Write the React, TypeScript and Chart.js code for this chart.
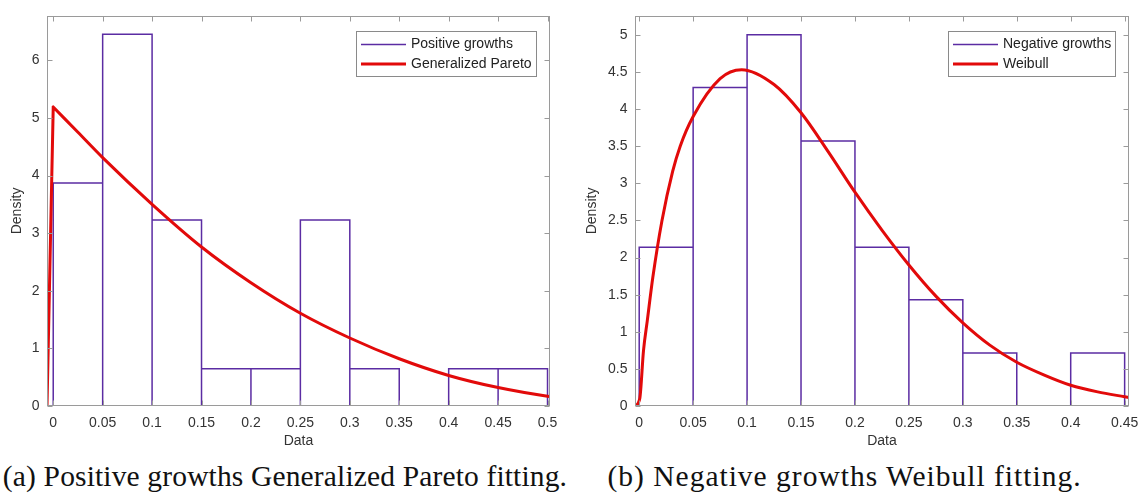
import React, { useEffect, useRef } from "react";
import { Chart, registerables } from "chart.js";

Chart.register(...registerables);

// ---------- Panel (a): positive growths, Generalized Pareto ----------
const posBinEdges = [0, 0.05, 0.1, 0.15, 0.2, 0.25, 0.3, 0.35, 0.4, 0.45, 0.5];
const posDensity = [3.87, 6.45, 3.23, 0.645, 0.645, 3.23, 0.645, 0, 0.645, 0.645];
const paretoX = [-0.0063, 0, 0.025, 0.05, 0.1, 0.15, 0.2, 0.25, 0.3, 0.35, 0.4, 0.45, 0.5, 0.5025];
const paretoY = [0, 5.19, 4.75, 4.31, 3.5, 2.76, 2.14, 1.61, 1.18, 0.82, 0.53, 0.32, 0.17, 0.165];
const paretoPeakIndex = 1; // the fitted density jumps up at x = 0 (support starts there)
const posXTicks = [0, 0.05, 0.1, 0.15, 0.2, 0.25, 0.3, 0.35, 0.4, 0.45, 0.5];
const posXTickLabels = ["0", "0.05", "0.1", "0.15", "0.2", "0.25", "0.3", "0.35", "0.4", "0.45", "0.5"];
const posYTicks = [0, 1, 2, 3, 4, 5, 6];
const posYTickLabels = ["0", "1", "2", "3", "4", "5", "6"];

// ---------- Panel (b): negative growths, Weibull ----------
const negBinEdges = [0, 0.05, 0.1, 0.15, 0.2, 0.25, 0.3, 0.35, 0.4, 0.45];
const negDensity = [2.14, 4.29, 5.0, 3.57, 2.14, 1.43, 0.714, 0, 0.714];
const weibullX = [-0.0039, 0.0005, 0.004, 0.0075, 0.0126, 0.021, 0.031, 0.038, 0.05, 0.075, 0.095, 0.125, 0.15, 0.175, 0.2, 0.225, 0.25, 0.275, 0.3, 0.325, 0.35, 0.375, 0.4, 0.425, 0.45, 0.454];
const weibullY = [0, 0.1, 0.75, 1.15, 1.73, 2.49, 3.16, 3.5, 3.9, 4.41, 4.53, 4.33, 3.95, 3.43, 2.88, 2.37, 1.9, 1.48, 1.12, 0.82, 0.59, 0.42, 0.28, 0.19, 0.125, 0.115];
const weibullPeakIndex = -1; // no discontinuity
const negXTicks = [0, 0.05, 0.1, 0.15, 0.2, 0.25, 0.3, 0.35, 0.4, 0.45];
const negXTickLabels = ["0", "0.05", "0.1", "0.15", "0.2", "0.25", "0.3", "0.35", "0.4", "0.45"];
const negYTicks = [0, 0.5, 1, 1.5, 2, 2.5, 3, 3.5, 4, 4.5, 5];
const negYTickLabels = ["0", "0.5", "1", "1.5", "2", "2.5", "3", "3.5", "4", "4.5", "5"];

const captionA = "(a) Positive growths Generalized Pareto fitting.";
const captionB = "(b) Negative growths Weibull fitting.";

const FONT = "'Liberation Sans', Arial, sans-serif";
const TEXT_COLOR = "#333333";
const BOX_COLOR = "#9a9a9a";
const HIST_COLOR = "#5b2ca3";
const FIT_COLOR = "#e20a0a";

type Spec = {
  edges: number[];
  heights: number[];
  fitX: number[];
  fitY: number[];
  breakAt: number;
  histLabel: string;
  fitLabel: string;
  xMin: number;
  xMax: number;
  yMax: number;
  xTicks: number[];
  xTickLabels: string[];
  yTicks: number[];
  yTickLabels: string[];
  yAxisWidth: number;
  padTop: number;
  padRight: number;
};

function histOutline(edges: number[], heights: number[]) {
  const pts: { x: number; y: number }[] = [];
  heights.forEach((h, i) => {
    pts.push({ x: edges[i], y: 0 }, { x: edges[i], y: h }, { x: edges[i + 1], y: h }, { x: edges[i + 1], y: 0 });
  });
  return pts;
}

// curve points; at a jump (breakAt) the smooth part is started afresh so the
// monotone spline does not round off the corner
function curvePoints(xs: number[], ys: number[], breakAt: number) {
  const pts: { x: number; y: number | null }[] = [];
  xs.forEach((x, i) => {
    pts.push({ x, y: ys[i] });
    if (i === breakAt) {
      pts.push({ x, y: null });
      pts.push({ x, y: ys[i] });
    }
  });
  return pts;
}

const framePlugin = {
  id: "matlabFrame",
  afterDatasetsDraw(chart: any) {
    const { ctx, chartArea: a } = chart;
    const xs = chart.scales.x;
    const ys = chart.scales.y;
    ctx.save();
    ctx.strokeStyle = BOX_COLOR;
    ctx.lineWidth = 1;
    const L = Math.round(a.left) + 0.5;
    const R = Math.round(a.right) - 0.5;
    const T = Math.round(a.top) + 0.5;
    const B = Math.round(a.bottom) - 0.5;
    ctx.strokeRect(L, T, R - L, B - T);
    const tl = 5;
    ctx.beginPath();
    xs.ticks.forEach((t: any) => {
      const px = Math.round(xs.getPixelForValue(t.value)) + 0.5;
      ctx.moveTo(px, B);
      ctx.lineTo(px, B - tl);
      ctx.moveTo(px, T);
      ctx.lineTo(px, T + tl);
    });
    ys.ticks.forEach((t: any) => {
      const py = Math.round(ys.getPixelForValue(t.value)) + 0.5;
      ctx.moveTo(L, py);
      ctx.lineTo(L + tl, py);
      ctx.moveTo(R, py);
      ctx.lineTo(R - tl, py);
    });
    ctx.stroke();

    // legend box (MATLAB style, north-east inside the axes)
    ctx.font = `14px ${FONT}`;
    const items = chart.data.datasets.map((d: any) => ({ label: d.label, color: d.borderColor, width: d.borderWidth }));
    const textW = Math.max(...items.map((i: any) => ctx.measureText(i.label).width));
    const boxW = Math.round(5 + 45 + 5 + textW + 4);
    const boxH = 45;
    const bx = Math.round(a.right - 14 - boxW);
    const by = Math.round(a.top + 15);
    ctx.fillStyle = "#ffffff";
    ctx.fillRect(bx, by, boxW, boxH);
    ctx.strokeStyle = "#8a8a8a";
    ctx.lineWidth = 1;
    ctx.strokeRect(bx + 0.5, by + 0.5, boxW, boxH);
    items.forEach((it: any, i: number) => {
      const cy = by + 13.5 + i * 19.5;
      ctx.strokeStyle = it.color;
      ctx.lineWidth = it.width;
      ctx.beginPath();
      ctx.moveTo(bx + 5, cy);
      ctx.lineTo(bx + 50, cy);
      ctx.stroke();
      ctx.fillStyle = "#222222";
      ctx.textAlign = "left";
      ctx.textBaseline = "middle";
      ctx.fillText(it.label, bx + 55, cy);
    });
    ctx.restore();
  },
};

function makeChart(canvas: HTMLCanvasElement, s: Spec) {
  const font = { family: FONT, size: 14 };
  return new Chart(canvas, {
    type: "scatter",
    data: {
      datasets: [
        {
          label: s.histLabel,
          data: histOutline(s.edges, s.heights),
          showLine: true,
          pointRadius: 0,
          borderColor: HIST_COLOR,
          borderWidth: 1.5,
          tension: 0,
          fill: false,
          order: 2,
        } as any,
        {
          label: s.fitLabel,
          data: curvePoints(s.fitX, s.fitY, s.breakAt),
          showLine: true,
          spanGaps: false,
          pointRadius: 0,
          borderColor: FIT_COLOR,
          borderWidth: 3,
          borderCapStyle: "round",
          borderJoinStyle: "round",
          cubicInterpolationMode: "monotone",
          fill: false,
          order: 1,
        } as any,
      ],
    },
    options: {
      responsive: false,
      animation: false,
      events: [],
      layout: { padding: { top: s.padTop, right: s.padRight, bottom: 0, left: 0 } },
      plugins: { legend: { display: false }, tooltip: { enabled: false } },
      scales: {
        x: {
          type: "linear",
          min: s.xMin,
          max: s.xMax,
          afterBuildTicks: (sc: any) => {
            sc.ticks = s.xTicks.map((v) => ({ value: v }));
          },
          afterFit: (sc: any) => {
            sc.height = 49;
          },
          grid: { display: false, drawTicks: false },
          border: { display: false },
          ticks: {
            autoSkip: false,
            maxRotation: 0,
            padding: 8.6,
            color: TEXT_COLOR,
            font,
            callback: (_v: any, i: number) => s.xTickLabels[i],
          },
          title: { display: true, text: "Data", color: TEXT_COLOR, font, padding: { top: 0, bottom: 5.6 } },
        },
        y: {
          type: "linear",
          min: 0,
          max: s.yMax,
          afterBuildTicks: (sc: any) => {
            sc.ticks = s.yTicks.map((v) => ({ value: v }));
          },
          afterFit: (sc: any) => {
            sc.width = s.yAxisWidth;
          },
          grid: { display: false, drawTicks: false },
          border: { display: false },
          ticks: {
            autoSkip: false,
            padding: 7.5,
            color: TEXT_COLOR,
            font,
            callback: (_v: any, i: number) => s.yTickLabels[i],
          },
          title: { display: true, text: "Density", color: TEXT_COLOR, font, padding: { top: 8.6, bottom: 0 } },
        },
      },
    } as any,
    plugins: [framePlugin],
  });
}

export default function App() {
  const leftRef = useRef<HTMLCanvasElement>(null);
  const rightRef = useRef<HTMLCanvasElement>(null);

  useEffect(() => {
    const a = makeChart(leftRef.current!, {
      edges: posBinEdges,
      heights: posDensity,
      fitX: paretoX,
      fitY: paretoY,
      breakAt: paretoPeakIndex,
      histLabel: "Positive growths",
      fitLabel: "Generalized Pareto",
      xMin: -0.0063,
      xMax: 0.5025,
      yMax: 6.77,
      xTicks: posXTicks,
      xTickLabels: posXTickLabels,
      yTicks: posYTicks,
      yTickLabels: posYTickLabels,
      yAxisWidth: 47,
      padTop: 9.3,
      padRight: 25,
    });
    const b = makeChart(rightRef.current!, {
      edges: negBinEdges,
      heights: negDensity,
      fitX: weibullX,
      fitY: weibullY,
      breakAt: weibullPeakIndex,
      histLabel: "Negative growths",
      fitLabel: "Weibull",
      xMin: -0.0039,
      xMax: 0.454,
      yMax: 5.255,
      xTicks: negXTicks,
      xTickLabels: negXTickLabels,
      yTicks: negYTicks,
      yTickLabels: negYTickLabels,
      yAxisWidth: 60,
      padTop: 14,
      padRight: 15.7,
    });
    return () => {
      a.destroy();
      b.destroy();
    };
  }, []);

  const captionStyle: React.CSSProperties = {
    position: "absolute",
    top: 461.7,
    textAlign: "center",
    fontFamily: "'Liberation Serif', 'Times New Roman', serif",
    fontSize: 29.5,
    lineHeight: "29.5px",
    whiteSpace: "nowrap",
    color: "#111111",
  };

  return (
    <div style={{ position: "absolute", left: 0, top: 0, width: 1147, height: 495, background: "#ffffff", overflow: "hidden" }}>
      <canvas ref={leftRef} width={575} height={455} style={{ position: "absolute", left: 0, top: 0 }} />
      <canvas ref={rightRef} width={572} height={455} style={{ position: "absolute", left: 575, top: 0 }} />
      <div style={{ ...captionStyle, left: 0, width: 570, letterSpacing: "0.15px" }}>{captionA}</div>
      <div style={{ ...captionStyle, left: 575, width: 539, letterSpacing: "1px" }}>{captionB}</div>
    </div>
  );
}
